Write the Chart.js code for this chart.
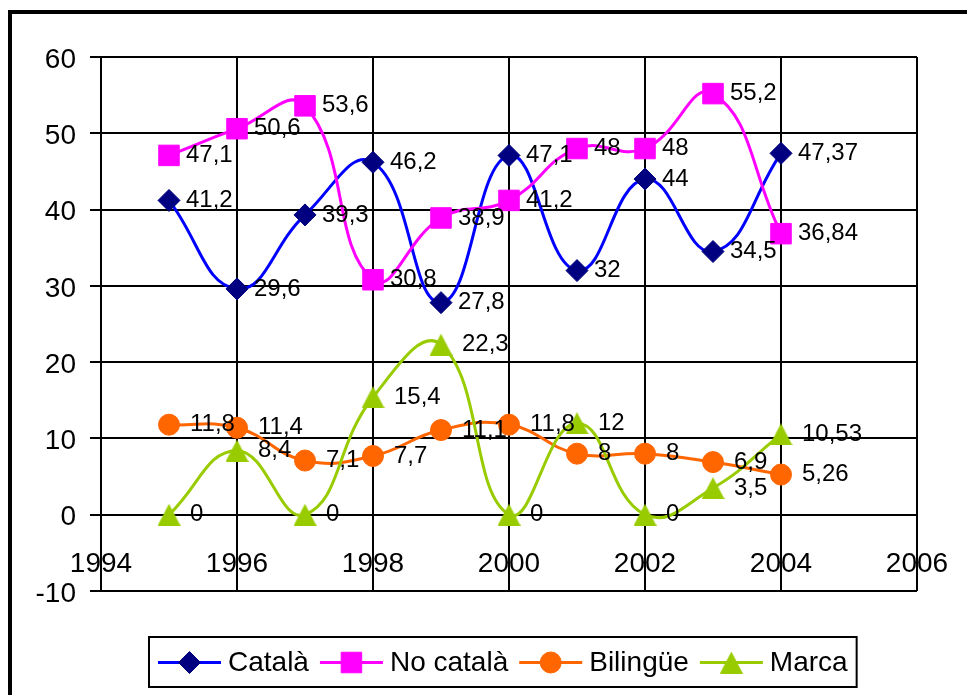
<!DOCTYPE html>
<html>
<head>
<meta charset="utf-8">
<script src="https://cdn.jsdelivr.net/npm/chart.js@4/dist/chart.umd.min.js"></script>
<style>
  html, body { margin: 0; padding: 0; background: #fff; overflow: hidden; }
  canvas { display: block; }
</style>
</head>
<body>
<canvas id="chart" width="967" height="695"></canvas>
<script>
// Survey years and the share (%) for each category
const years    = [1995, 1996, 1997, 1998, 1999, 2000, 2001, 2002, 2003, 2004];
const catala   = [41.2, 29.6, 39.3, 46.2, 27.8, 47.1, 32, 44, 34.5, 47.37];
const noCatala = [47.1, 50.6, 53.6, 30.8, 38.9, 41.2, 48, 48, 55.2, 36.84];
const bilingue = [11.8, 11.4, 7.1, 7.7, 11.1, 11.8, 8, 8, 6.9, 5.26];
const marca    = [0, 8.4, 0, 15.4, 22.3, 0, 12, 0, 3.5, 10.53];
const seriesNames = ['Català', 'No català', 'Bilingüe', 'Marca'];
const xTickValues = [1994, 1996, 1998, 2000, 2002, 2004, 2006];
const yTickValues = [-10, 0, 10, 20, 30, 40, 50, 60];

const FONT = '"Liberation Sans", Arial, Helvetica, sans-serif';
Chart.defaults.font.family = FONT;
Chart.defaults.color = '#000';

// Upward triangle marker, centred on its bounding box
function triangleMarker(color, w, h) {
  const c = document.createElement('canvas');
  c.width = w; c.height = h;
  const g = c.getContext('2d');
  g.fillStyle = color;
  g.beginPath();
  g.moveTo(w / 2, 0);
  g.lineTo(w, h);
  g.lineTo(0, h);
  g.closePath();
  g.fill();
  return c;
}

const toPoints = vals => vals.map((v, i) => ({ x: years[i], y: v }));
const fmt = v => String(v).replace('.', ',');

const styles = [
  { line: '#0000FF', marker: '#000080', pointStyle: 'rectRot', radius: 11, labelDx: 17 },
  { line: '#FF00FF', marker: '#FF00FF', pointStyle: 'rect', radius: 14.5, labelDx: 17 },
  { line: '#FF6600', marker: '#FF6600', pointStyle: 'circle', radius: 10.5, labelDx: 21 },
  { line: '#99CC00', marker: '#99CC00', pointStyle: triangleMarker('#99CC00', 23, 22), radius: 12, labelDx: 21 }
];

const seriesValues = [catala, noCatala, bilingue, marca];

const datasets = seriesValues.map((vals, i) => ({
  label: seriesNames[i],
  data: toPoints(vals),
  borderColor: styles[i].line,
  borderWidth: 3,
  backgroundColor: styles[i].marker,
  pointBackgroundColor: styles[i].marker,
  pointBorderColor: styles[i].marker,
  pointBorderWidth: 1,
  pointStyle: styles[i].pointStyle,
  pointRadius: styles[i].radius,
  tension: 0.45,
  fill: false,
  order: seriesValues.length - i,
  labelDx: styles[i].labelDx
}));

// Outer frame around the whole figure
const framePlugin = {
  id: 'frame',
  beforeDraw(chart) {
    const ctx = chart.ctx;
    ctx.save();
    ctx.fillStyle = '#fff';
    ctx.fillRect(0, 0, chart.width, chart.height);
    ctx.strokeStyle = '#000';
    ctx.lineWidth = 4;
    ctx.strokeRect(10, 12, chart.width + 50, chart.height + 50);
    ctx.restore();
  }
};

// Value labels to the right of each marker
const valueLabels = {
  id: 'valueLabels',
  afterDatasetsDraw(chart) {
    const ctx = chart.ctx;
    ctx.save();
    ctx.font = '24px ' + FONT;
    ctx.fillStyle = '#000';
    ctx.textAlign = 'left';
    ctx.textBaseline = 'middle';
    chart.data.datasets.forEach((ds, i) => {
      const meta = chart.getDatasetMeta(i);
      meta.data.forEach((pt, j) => {
        ctx.fillText(fmt(ds.data[j].y), pt.x + ds.labelDx, pt.y);
      });
    });
    ctx.restore();
  }
};

// Boxed legend below the plot: line + marker + name
const boxedLegend = {
  id: 'boxedLegend',
  afterDraw(chart) {
    const ctx = chart.ctx;
    const lineLen = 63, gapText = 7, gapItem = 11, pad = 9;
    ctx.save();
    ctx.font = '28px ' + FONT;
    const items = chart.data.datasets.map(ds => ({ ds, w: ctx.measureText(ds.label).width }));
    const total = items.reduce((s, it) => s + lineLen + gapText + it.w, 0) + gapItem * (items.length - 1) + pad * 2;
    const left = 149;
    const top = 637, bottom = 687, cy = 662.5;
    ctx.strokeStyle = '#000';
    ctx.lineWidth = 2;
    ctx.strokeRect(left, top, total, bottom - top);
    let x = left + pad;
    items.forEach(({ ds, w }) => {
      ctx.strokeStyle = ds.borderColor;
      ctx.lineWidth = 3;
      ctx.beginPath();
      ctx.moveTo(x, cy);
      ctx.lineTo(x + lineLen, cy);
      ctx.stroke();
      ctx.fillStyle = ds.pointBackgroundColor;
      ctx.strokeStyle = ds.pointBorderColor;
      ctx.lineWidth = 1;
      Chart.helpers.drawPoint(ctx, { pointStyle: ds.pointStyle, radius: ds.pointRadius, rotation: 0, borderWidth: 1 }, x + lineLen / 2, cy);
      ctx.fillStyle = '#000';
      ctx.textAlign = 'left';
      ctx.textBaseline = 'middle';
      ctx.fillText(ds.label, x + lineLen + gapText, cy + 1);
      x += lineLen + gapText + w + gapItem;
    });
    ctx.restore();
  }
};

new Chart(document.getElementById('chart'), {
  type: 'line',
  data: { datasets },
  options: {
    responsive: false,
    animation: false,
    events: [],
    layout: { padding: { left: 10, right: 50, top: 57, bottom: 104 } },
    plugins: { legend: { display: false }, tooltip: { enabled: false }, title: { display: false } },
    scales: {
      x: {
        type: 'linear',
        position: { y: 0 },
        min: xTickValues[0],
        max: xTickValues[xTickValues.length - 1],
        afterBuildTicks: s => { s.ticks = xTickValues.map(v => ({ value: v })); },
        ticks: { font: { size: 28 }, color: '#000', callback: v => String(v), maxRotation: 0, autoSkip: false },
        grid: { color: '#000', lineWidth: 2, tickLength: 30, tickColor: 'rgba(0,0,0,0)' },
        border: { color: '#000', width: 2 }
      },
      y: {
        type: 'linear',
        min: yTickValues[0],
        max: yTickValues[yTickValues.length - 1],
        afterBuildTicks: s => { s.ticks = yTickValues.map(v => ({ value: v })); },
        afterFit: s => { s.width = 91; },
        ticks: { font: { size: 28 }, color: '#000', padding: 14, labelOffset: 3, callback: v => String(v) },
        grid: { color: '#000', lineWidth: 2, tickLength: 11, tickColor: '#000' },
        border: { color: '#000', width: 2 }
      }
    }
  },
  plugins: [framePlugin, valueLabels, boxedLegend]
});
</script>
</body>
</html>
